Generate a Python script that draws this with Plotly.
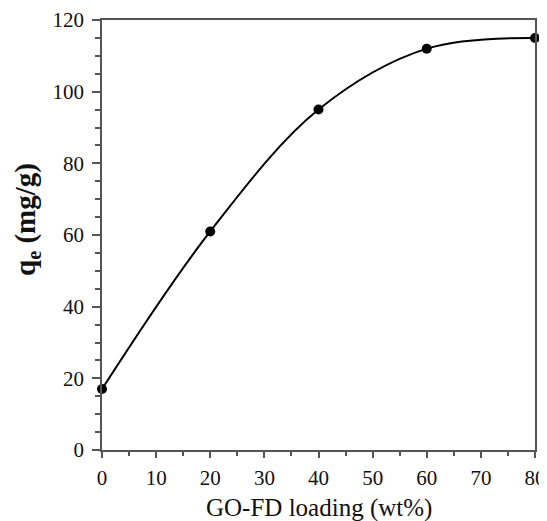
import plotly.graph_objects as go

loading = [0, 20, 40, 60, 80]
qe = [17, 61, 95, 112, 115]

x_title = "GO-FD loading (wt%)"
y_title = "<b>q<sub>e</sub> (mg/g)</b>"

fig = go.Figure()
fig.add_trace(go.Scatter(
    x=loading, y=qe, mode="lines+markers",
    line=dict(color="black", width=2, shape="spline", smoothing=1.0),
    marker=dict(color="black", size=10),
    showlegend=False, cliponaxis=False,
))

axis_common = dict(
    showline=True, linecolor="#555555", linewidth=1.5, mirror=True,
    ticks="outside", tickwidth=1.5, tickcolor="#555555",
    showgrid=False, zeroline=False, automargin=False,
    tickfont=dict(family="Liberation Serif", size=21, color="#111111"),
)

fig.update_xaxes(
    range=[0, 80], tick0=0, dtick=10, ticklen=6, ticklabelstandoff=2,
    minor=dict(ticks="outside", dtick=5, ticklen=4, tickcolor="#555555", tickwidth=1.5),
    **axis_common,
)
fig.update_yaxes(
    range=[0, 120], tick0=0, dtick=20, ticklen=8, ticklabelstandoff=4,
    minor=dict(ticks="outside", dtick=5, ticklen=5, tickcolor="#555555", tickwidth=1.5),
    **axis_common,
)

fig.add_annotation(
    text=x_title, xref="paper", yref="paper", x=0.5, y=0, yshift=-58,
    xanchor="center", yanchor="middle", showarrow=False,
    font=dict(family="Liberation Serif", size=25, color="#111111"),
)
fig.add_annotation(
    text=y_title, xref="paper", yref="paper", x=0, xshift=-75, y=0.535,
    xanchor="center", yanchor="middle", textangle=-90, showarrow=False,
    borderpad=0,
    font=dict(family="Liberation Serif", size=29, color="#111111"),
)

# the page body adds an 8px offset, so the figure is sized to compensate
fig.update_layout(
    width=539, height=513,
    margin=dict(l=94, r=12, t=12, b=71),
    plot_bgcolor="white", paper_bgcolor="white",
)

fig.write_html("out.html")
